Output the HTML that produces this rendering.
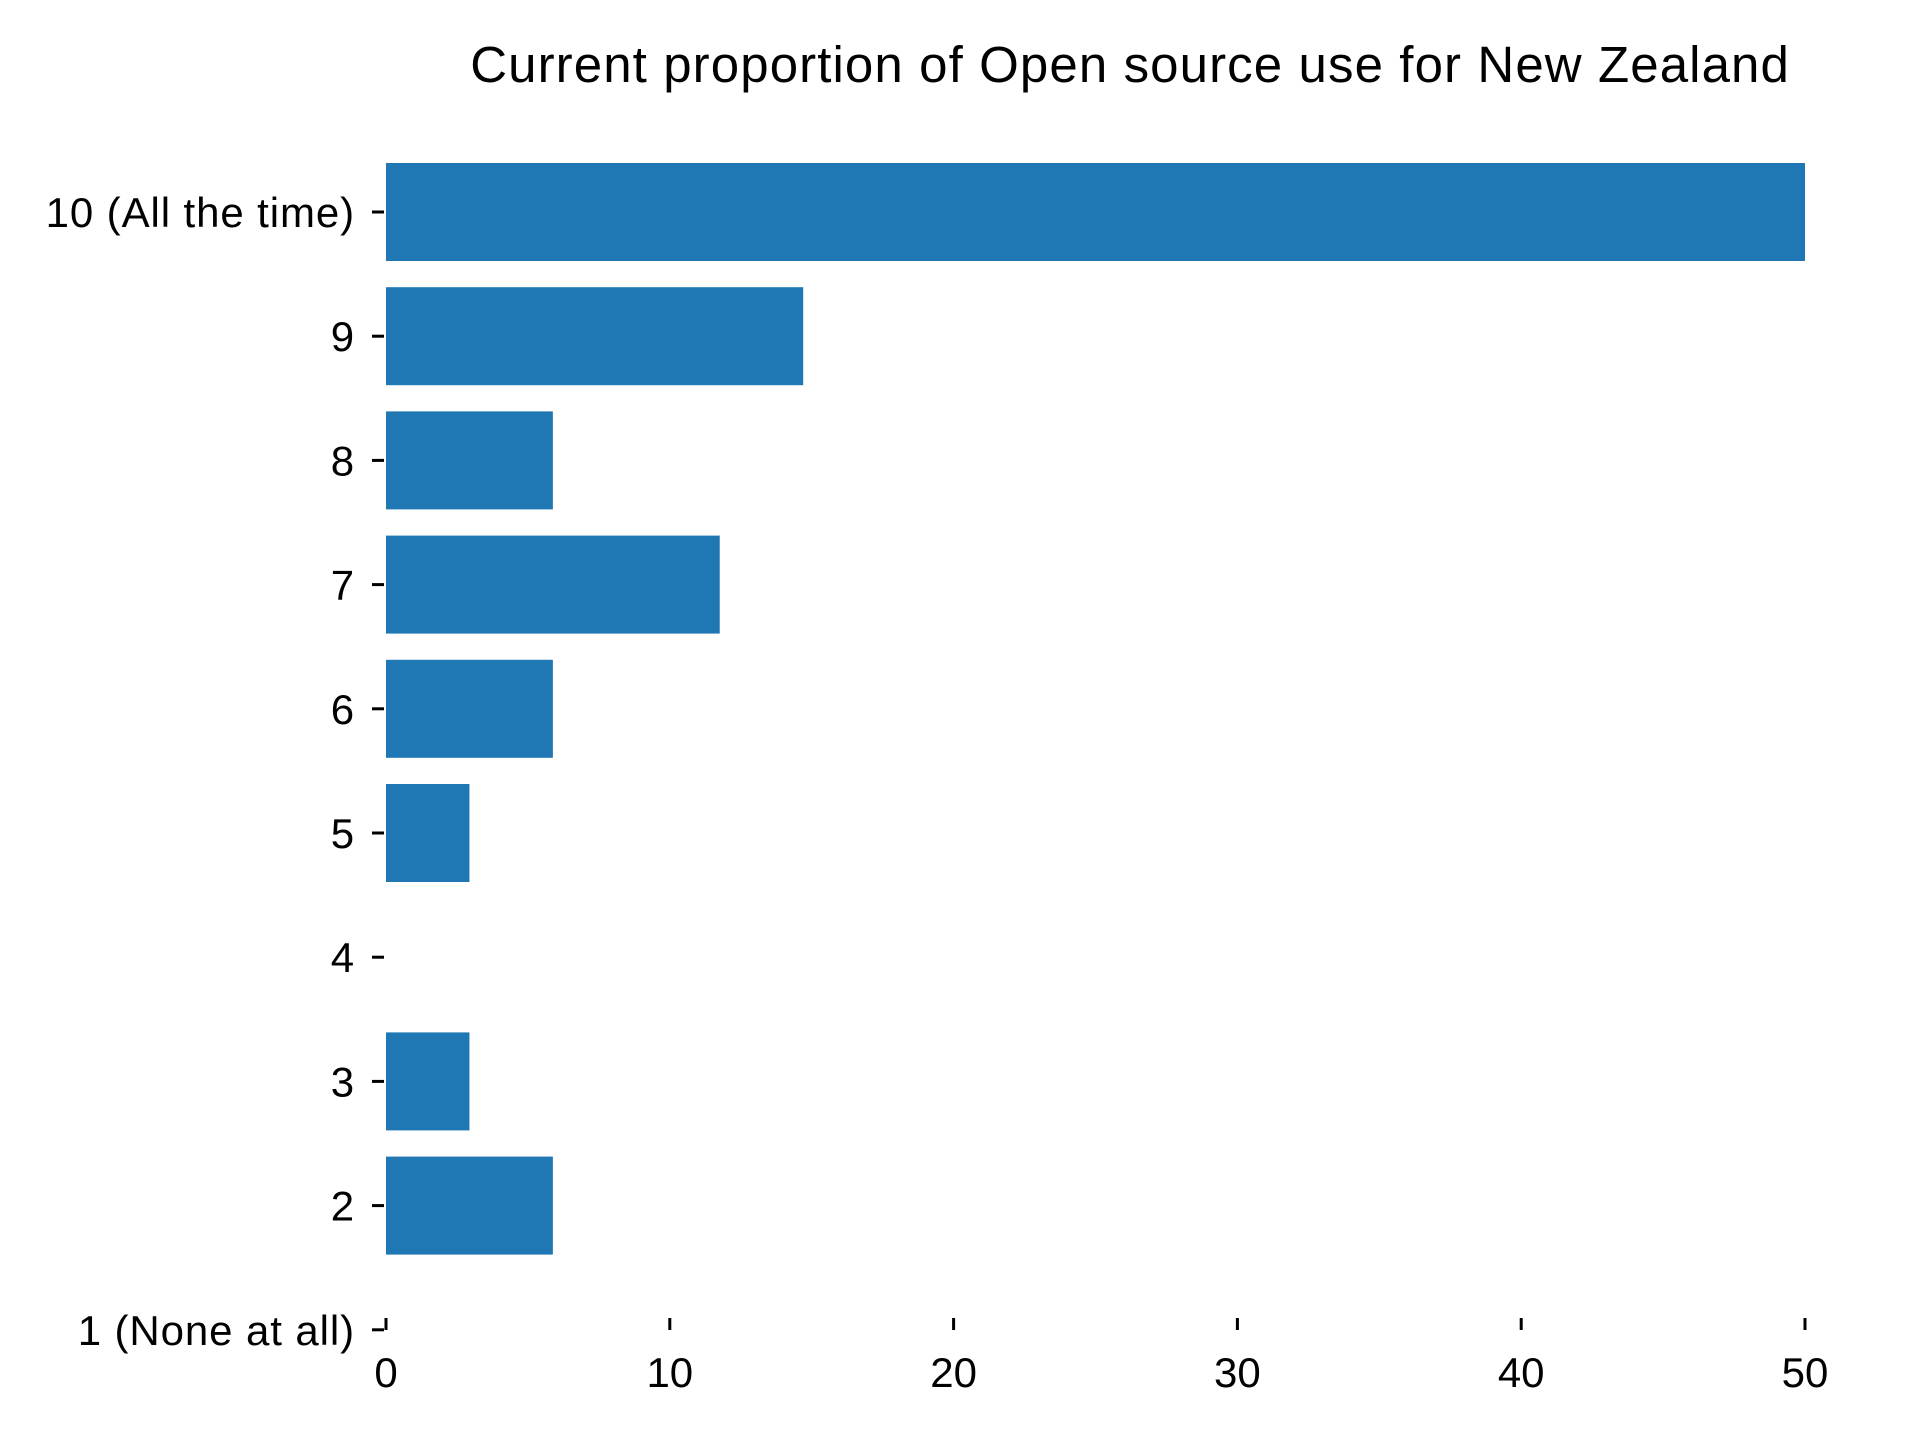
<!DOCTYPE html>
<html><head><meta charset="utf-8"><style>
html,body{margin:0;padding:0;background:#fff;}
svg{display:block;font-family:"Liberation Sans","DejaVu Sans",sans-serif;}
</style></head><body>
<svg id="chart" width="1920" height="1440" viewBox="0 0 1920 1440" xmlns="http://www.w3.org/2000/svg">
<text x="1790" y="82" text-anchor="end" font-size="51" letter-spacing="1.1" fill="#000">Current proportion of Open source use for New Zealand</text>
<g id="bars"></g><g id="yaxis"></g><g id="xaxis"></g>
</svg>
<script>
const categories = ["10 (All the time)","9","8","7","6","5","4","3","2","1 (None at all)"];
const values = [50, 14.7, 5.88, 11.76, 5.88, 2.94, 0, 2.94, 5.88, 0];
const xTicks = [0,10,20,30,40,50];
const NS="http://www.w3.org/2000/svg";
const x0=386, x1=1805, xMax=50;
const y0=212, step=124.2, bh=98;
const xs=v=>x0+(v/xMax)*(x1-x0);
const ys=i=>y0+i*step;
function mk(tag,attrs,parent){const e=document.createElementNS(NS,tag);for(const k in attrs)e.setAttribute(k,attrs[k]);parent.appendChild(e);return e;}
const gb=document.getElementById('bars'),gy=document.getElementById('yaxis'),gx=document.getElementById('xaxis');
categories.forEach((c,i)=>{
  if(values[i]>0){
    const r=mk('rect',{x:xs(0),y:ys(i)-bh/2,width:xs(values[i])-xs(0),height:bh,fill:'#1f77b4'},gb);
    
    
  }
  const t=mk('line',{x1:372,x2:384,y1:ys(i),y2:ys(i),stroke:'#000','stroke-width':3},gy);
  
  
  const l=mk('text',{x:355,y:ys(i)+15,'text-anchor':'end','font-size':42,'letter-spacing':0.9,fill:'#000'},gy);
  l.textContent=c;
  
  
});
xTicks.forEach(v=>{
  const t=mk('line',{x1:xs(v),x2:xs(v),y1:1318,y2:1330,stroke:'#000','stroke-width':3},gx);
  
  
  const l=mk('text',{x:xs(v),y:1387,'text-anchor':'middle','font-size':42,fill:'#000'},gx);
  l.textContent=v;
  
  
});
</script>
</body></html>
